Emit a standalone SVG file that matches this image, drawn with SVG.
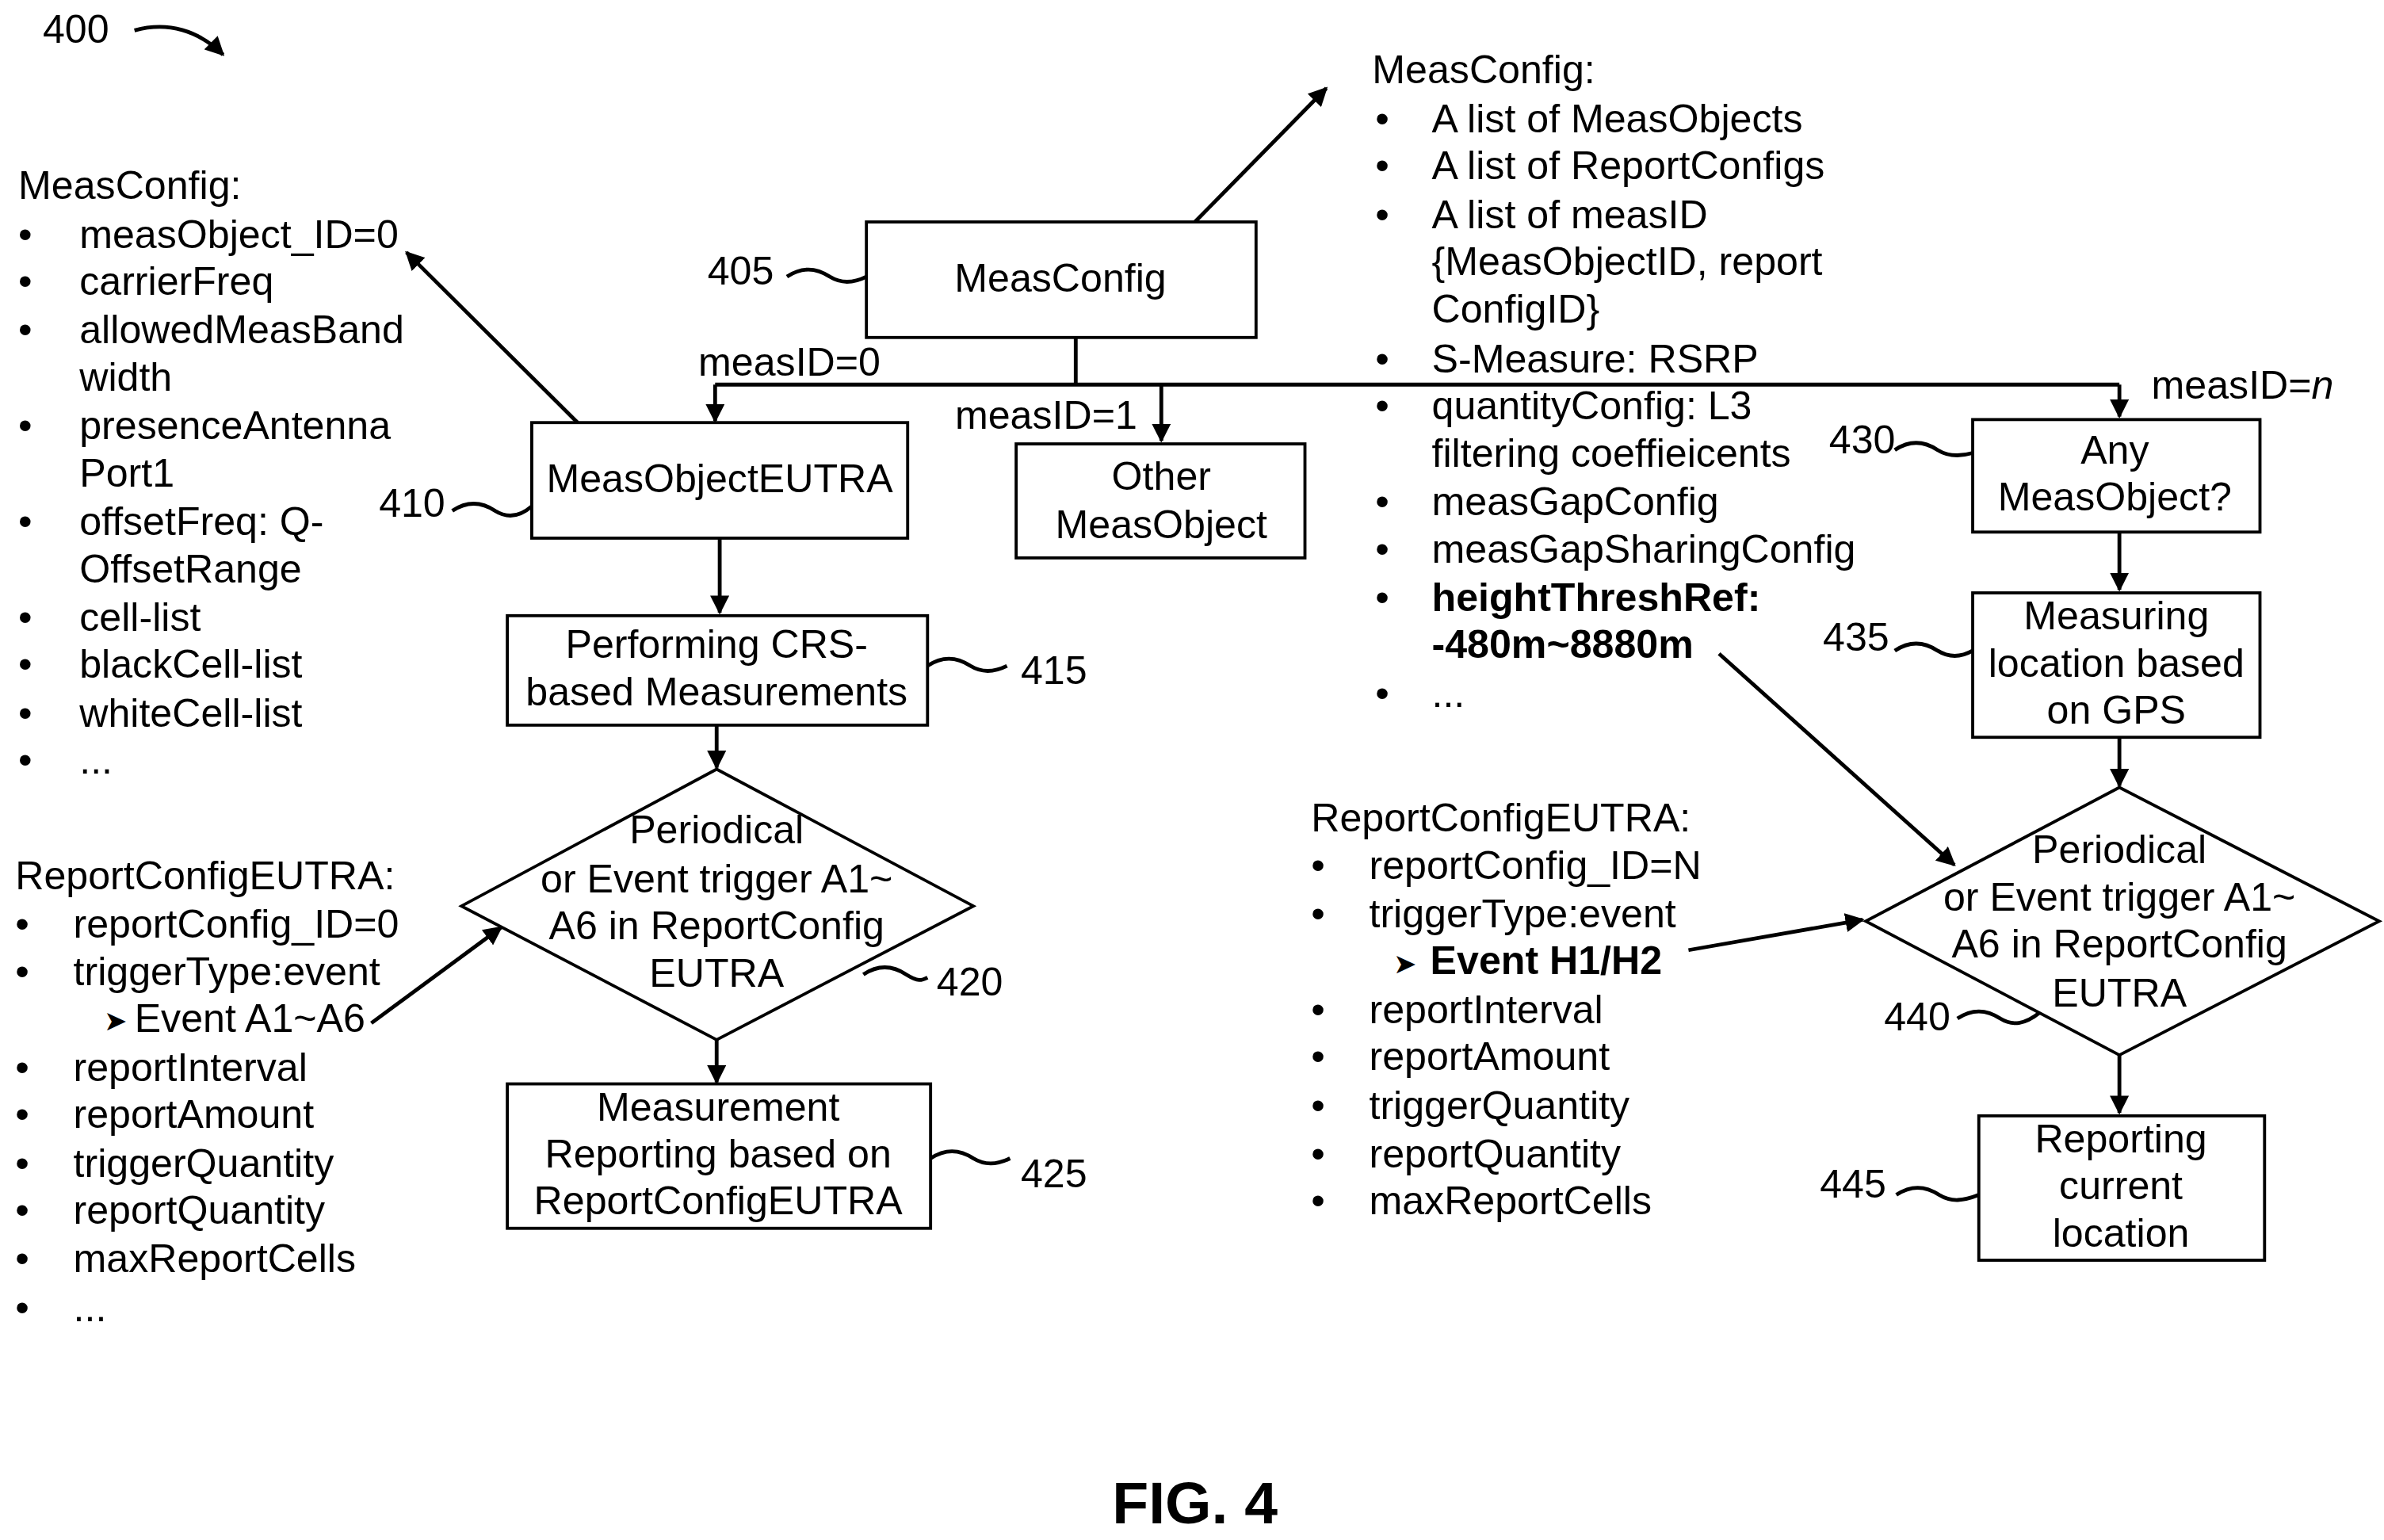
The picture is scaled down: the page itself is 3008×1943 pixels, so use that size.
<svg xmlns="http://www.w3.org/2000/svg" width="3008" height="1943" viewBox="0 0 3008 1943">
<style>
text{font-family:"Liberation Sans",Arial,sans-serif;font-size:26px;fill:#000}
.c{text-anchor:middle}
.b{font-weight:bold}
.ar{font-size:18px}
.fig{font-size:39px}
rect,polygon{fill:#fff;stroke:#000;stroke-width:2}
.l{fill:none;stroke:#000;stroke-width:2.5}
.a{fill:none;stroke:#000;stroke-width:2.5;marker-end:url(#ah)}
</style>
<defs><marker id="ah" viewBox="0 0 10 10" refX="9" refY="5" markerWidth="5" markerHeight="5" orient="auto"><path d="M0,0 L10,5 L0,10 z" fill="#000"/></marker></defs>
<rect x="0" y="0" width="3008" height="1943" style="fill:#fff;stroke:none"/>
<g transform="scale(1.928,1.918)">
<g id="connectors">
<path class="a" d="M88,20 C110,14 130,20 146,36"/>
<path class="a" d="M782,146 L868,58"/>
<path class="l" d="M704,222 V253 M468,253 H1387"/>
<path class="a" d="M468,253 V277"/>
<path class="a" d="M760,253 V290"/>
<path class="a" d="M1387,253 V274"/>
<path class="a" d="M378,278 L266,166"/>
<path class="a" d="M471,354 V403"/>
<path class="a" d="M469,477 V505"/>
<path class="a" d="M469,684 V712"/>
<path class="a" d="M1387,350 V388"/>
<path class="a" d="M1387,485 V517"/>
<path class="a" d="M1387,694 V732"/>
<path class="a" d="M243,673 L328,610"/>
<path class="a" d="M1105,625 L1219,605"/>
<path class="a" d="M1125,430 L1279,569"/>
<path class="l" d="M515,182 c12,-8 22,-4 28,0 c8,5 16,4 24,0"/>
<path class="l" d="M296,336 c12,-8 22,-4 28,0 c8,5 16,4 24,-3"/>
<path class="l" d="M607,438 c12,-8 22,-4 28,0 c8,5 16,4 24,0"/>
<path class="l" d="M565,641 c12,-8 22,-4 28,0 c8,5 10,4 14,2"/>
<path class="l" d="M609,762 c12,-8 22,-4 28,0 c8,5 16,4 24,0"/>
<path class="l" d="M1240,296 c12,-8 22,-4 28,0 c8,5 16,4 23,2"/>
<path class="l" d="M1240,428 c12,-8 22,-4 28,0 c8,5 16,4 23,0"/>
<path class="l" d="M1281,670 c12,-8 22,-4 28,0 c8,5 16,4 26,-4"/>
<path class="l" d="M1241,786 c12,-8 22,-4 28,0 c8,5 16,4 26,0"/>
</g>
<text x="28" y="28">400</text>
<g id="n405"><rect x="567" y="146" width="255" height="76"/><text class="c" x="694" y="192">MeasConfig</text><text x="463" y="187">405</text></g>
<g id="n410"><rect x="348" y="278" width="246" height="76"/><text class="c" x="471" y="324">MeasObjectEUTRA</text><text x="248" y="340">410</text></g>
<g id="nOther"><rect x="665" y="292" width="189" height="75"/><text class="c" x="760" y="322">Other</text><text class="c" x="760" y="354">MeasObject</text></g>
<g id="n430"><rect x="1291" y="276" width="188" height="74"/><text class="c" x="1384" y="305">Any</text><text class="c" x="1384" y="336">MeasObject?</text><text x="1197" y="298">430</text></g>
<g id="n435"><rect x="1291" y="390" width="188" height="95"/><text class="c" x="1385" y="414">Measuring</text><text class="c" x="1385" y="445">location based</text><text class="c" x="1385" y="476">on GPS</text><text x="1193" y="428">435</text></g>
<g id="n440"><polygon points="1387,518 1557,606 1387,694 1221,606"/><text class="c" x="1387" y="568">Periodical</text><text class="c" x="1387" y="599">or Event trigger A1~</text><text class="c" x="1387" y="630">A6 in ReportConfig</text><text class="c" x="1387" y="662">EUTRA</text><text x="1233" y="678">440</text></g>
<g id="n445"><rect x="1295" y="734" width="187" height="95"/><text class="c" x="1388" y="758">Reporting</text><text class="c" x="1388" y="789">current</text><text class="c" x="1388" y="820">location</text><text x="1191" y="788">445</text></g>
<g id="n415"><rect x="332" y="405" width="275" height="72"/><text class="c" x="469" y="433">Performing CRS-</text><text class="c" x="469" y="464">based Measurements</text><text x="668" y="450">415</text></g>
<g id="n420"><polygon points="469,506 637,596 469,684 302,596"/><text class="c" x="469" y="555">Periodical</text><text class="c" x="469" y="587">or Event trigger A1~</text><text class="c" x="469" y="618">A6 in ReportConfig</text><text class="c" x="469" y="649">EUTRA</text><text x="613" y="655">420</text></g>
<g id="n425"><rect x="332" y="713" width="277" height="95"/><text class="c" x="470" y="737">Measurement</text><text class="c" x="470" y="768">Reporting based on</text><text class="c" x="470" y="799">ReportConfigEUTRA</text><text x="668" y="781">425</text></g>
<text x="457" y="247">measID=0</text><text x="625" y="282">measID=1</text><text x="1408" y="262">measID=<tspan font-style="italic">n</tspan></text>
<g id="listTop">
<text x="898" y="55">MeasConfig:</text>
<text x="900" y="87">•</text><text x="937" y="87">A list of MeasObjects</text>
<text x="900" y="118">•</text><text x="937" y="118">A list of ReportConfigs</text>
<text x="900" y="150">•</text><text x="937" y="150">A list of measID</text>
<text x="937" y="181">{MeasObjectID, report</text>
<text x="937" y="212">ConfigID}</text>
<text x="900" y="245">•</text><text x="937" y="245">S-Measure: RSRP</text>
<text x="900" y="276">•</text><text x="937" y="276">quantityConfig: L3</text>
<text x="937" y="307">filtering coeffieicents</text>
<text x="900" y="339">•</text><text x="937" y="339">measGapConfig</text>
<text x="900" y="370">•</text><text x="937" y="370">measGapSharingConfig</text>
<text x="900" y="402">•</text><text class="b" x="937" y="402">heightThreshRef:</text>
<text class="b" x="937" y="433">-480m~8880m</text>
<text x="900" y="465">•</text><text x="937" y="465">...</text>
</g>
<g id="listLeft">
<text x="12" y="131">MeasConfig:</text>
<text x="12" y="163">•</text><text x="52" y="163">measObject_ID=0</text>
<text x="12" y="194">•</text><text x="52" y="194">carrierFreq</text>
<text x="12" y="226">•</text><text x="52" y="226">allowedMeasBand</text>
<text x="52" y="257">width</text>
<text x="12" y="289">•</text><text x="52" y="289">presenceAntenna</text>
<text x="52" y="320">Port1</text>
<text x="12" y="352">•</text><text x="52" y="352">offsetFreq: Q-</text>
<text x="52" y="383">OffsetRange</text>
<text x="12" y="415">•</text><text x="52" y="415">cell-list</text>
<text x="12" y="446">•</text><text x="52" y="446">blackCell-list</text>
<text x="12" y="478">•</text><text x="52" y="478">whiteCell-list</text>
<text x="12" y="509">•</text><text x="52" y="509">...</text>
</g>
<g id="listRC1">
<text x="10" y="585">ReportConfigEUTRA:</text>
<text x="10" y="617">•</text><text x="48" y="617">reportConfig_ID=0</text>
<text x="10" y="648">•</text><text x="48" y="648">triggerType:event</text>
<text class="ar" x="68" y="678">➤</text><text x="88" y="679">Event A1~A6</text>
<text x="10" y="711">•</text><text x="48" y="711">reportInterval</text>
<text x="10" y="742">•</text><text x="48" y="742">reportAmount</text>
<text x="10" y="774">•</text><text x="48" y="774">triggerQuantity</text>
<text x="10" y="805">•</text><text x="48" y="805">reportQuantity</text>
<text x="10" y="837">•</text><text x="48" y="837">maxReportCells</text>
<text x="10" y="869">•</text><text x="48" y="869">...</text>
</g>
<g id="listRC2">
<text x="858" y="547">ReportConfigEUTRA:</text>
<text x="858" y="578">•</text><text x="896" y="578">reportConfig_ID=N</text>
<text x="858" y="610">•</text><text x="896" y="610">triggerType:event</text>
<text class="ar" x="912" y="640">➤</text><text class="b" x="936" y="641">Event H1/H2</text>
<text x="858" y="673">•</text><text x="896" y="673">reportInterval</text>
<text x="858" y="704">•</text><text x="896" y="704">reportAmount</text>
<text x="858" y="736">•</text><text x="896" y="736">triggerQuantity</text>
<text x="858" y="768">•</text><text x="896" y="768">reportQuantity</text>
<text x="858" y="799">•</text><text x="896" y="799">maxReportCells</text>
</g>
<text class="c b fig" x="782" y="1002">FIG. 4</text>
</g>
</svg>
